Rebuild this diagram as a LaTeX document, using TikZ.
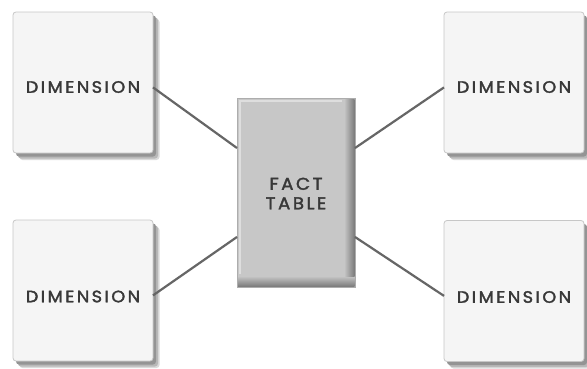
\documentclass[tikz,border=0pt]{standalone}
\usepackage{fontspec}
\newfontfamily\lblfont{Poppins}[LetterSpace=14, FakeBold=2]
\usetikzlibrary{shadows}
\begin{document}
\begin{tikzpicture}[x=1pt,y=1pt,
  lbl/.style={font=\lblfont\fontsize{16.5}{19}\selectfont, text=black!78, inner sep=0pt, xscale=1.07},
  dimbox/.style={draw=black!22, fill=black!4, line width=0.8pt, rounded corners=3pt,
    minimum width=140pt, minimum height=141pt, outer sep=0pt, inner sep=0pt,
    general shadow={shadow xshift=6.5pt, shadow yshift=-7pt, fill=black!14},
    general shadow={shadow xshift=5pt, shadow yshift=-5.5pt, fill=black!28},
    general shadow={shadow xshift=3pt, shadow yshift=-3.5pt, fill=black!42}},
  factbox/.style={draw=black!32, fill=black!22, line width=0.8pt,
    minimum width=118pt, minimum height=189pt, outer sep=0pt, inner sep=0pt},
  link/.style={draw=black!60, line width=2.2pt}]
\useasboundingbox[fill=white] (0,0) rectangle (587,368);

% dimension tables
\node[dimbox, label={[lbl, yshift=-4.5pt]center:DIMENSION}] (d1) at (83,285.5) {};
\node[dimbox, label={[lbl, yshift=-4.5pt]center:DIMENSION}] (d2) at (514,285.5) {};
\node[dimbox, label={[lbl, yshift=-6pt]center:DIMENSION}] (d3) at (83,77.5) {};
\node[dimbox, label={[lbl, yshift=-6pt]center:DIMENSION}] (d4) at (514,77) {};

% fact table with bevelled edges
\node[factbox] (f) at (296,175.5) {};
\shade[top color=black!22, bottom color=black!52]
  ([xshift=0.5pt,yshift=11pt]f.south west) rectangle ([xshift=-0.5pt,yshift=0.5pt]f.south east);
\shade[left color=black!22, right color=black!52]
  ([xshift=-11pt,yshift=-1pt]f.north east) rectangle ([xshift=-0.5pt,yshift=11pt]f.south east);
\draw[black!13, line width=2pt]
  ([xshift=3pt,yshift=13pt]f.south west) |- ([xshift=-13pt,yshift=-3pt]f.north east);
\draw[black!32, line width=0.8pt] (f.south west) rectangle (f.north east);
\node[lbl, font=\lblfont\fontsize{17}{19.5}\selectfont, align=center] (ft) at ([yshift=-1pt]f.center) {FACT\\TABLE};

% links between the fact table and its dimensions
\draw[link] (d1.-4.5) -- (f.143);
\draw[link] (d2.184.5) -- (f.37);
\draw[link] (d3.-4.5) -- (f.-143.5);
\draw[link] (d4.184) -- (f.-37);
\end{tikzpicture}
\end{document}
